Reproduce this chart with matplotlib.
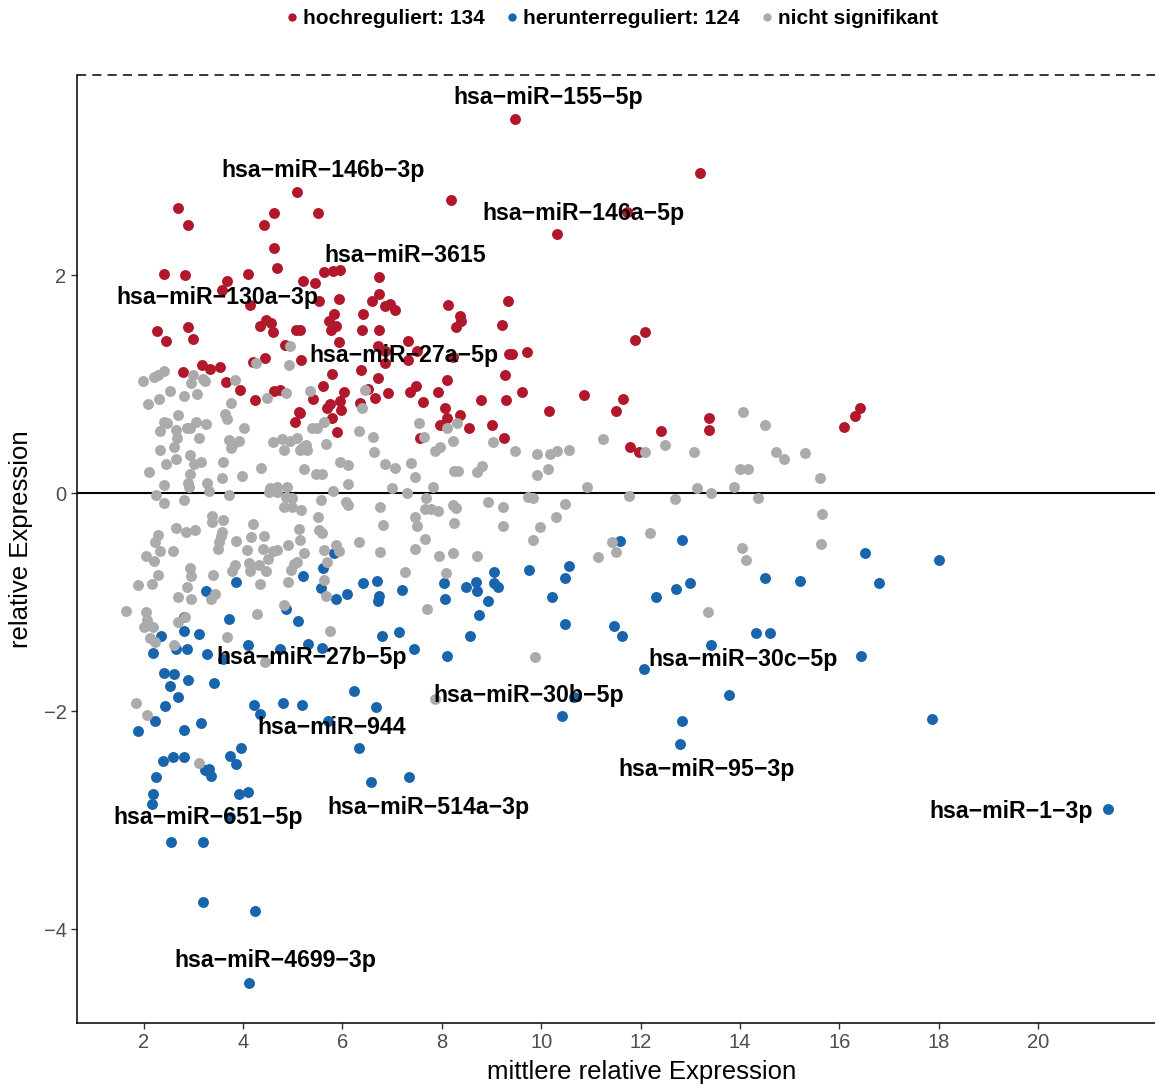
import numpy as np
import matplotlib
matplotlib.use("Agg")
import matplotlib.pyplot as plt
from matplotlib.lines import Line2D

plt.rcParams['font.family'] = ['Liberation Sans', 'DejaVu Sans']

# (mittlere relative Expression, relative Expression)
up = [(9.48,3.44),(13.20,2.94),(5.09,2.77),(2.70,2.62),(8.19,2.69),(4.63,2.57),(5.51,2.57),(2.90,2.46),(4.43,2.46),
      (11.73,2.58),(10.32,2.38),(4.63,2.25),(4.69,2.07),(2.41,2.01),(2.84,2.00),(4.10,2.01),(3.68,1.95),(5.63,2.03),
      (5.81,2.04),(5.96,2.05),(5.21,1.95),(5.45,1.93),(6.74,1.99),(6.74,1.83),(3.58,1.87),(4.14,1.73),(5.53,1.77),
      (5.94,1.78),(6.60,1.77),(6.86,1.72),(6.96,1.74),(7.06,1.68),(6.42,1.65),(5.83,1.65),(5.73,1.58),(5.87,1.54),
      (5.77,1.50),(6.40,1.50),(6.74,1.50),(4.47,1.59),(4.57,1.56),(4.35,1.54),(4.61,1.48),(2.27,1.49),(2.90,1.53),
      (2.45,1.40),(3.00,1.42),(5.07,1.50),(5.15,1.50),(5.94,1.39),(8.13,1.73),(8.37,1.63),(8.39,1.58),(8.29,1.53),
      (9.34,1.77),(9.22,1.55),(11.89,1.41),(12.09,1.48),(6.72,1.35),(6.86,1.31),(7.32,1.40),(7.50,1.31),(7.32,1.22),
      (6.86,1.20),(9.36,1.28),(9.42,1.28),(9.72,1.30),(8.23,1.25),(5.17,1.22),(6.38,1.13),(5.79,1.10),(6.72,1.06),
      (9.28,1.09),(8.11,1.04),(5.61,0.99),(7.48,0.99),(6.52,0.96),(6.04,0.93),(6.92,0.92),(7.36,0.93),(7.93,0.93),
      (9.62,0.93),(5.41,0.87),(6.66,0.88),(6.36,0.83),(5.96,0.85),(5.75,0.82),(5.69,0.78),(5.98,0.77),(7.63,0.84),
      (8.79,0.86),(9.30,0.86),(10.87,0.90),(11.65,0.87),(10.16,0.76),(11.51,0.76),(8.07,0.78),(5.15,0.74),(5.79,0.69),
      (8.37,0.72),(8.11,0.69),(8.03,0.63),(7.97,0.63),(8.55,0.60),(9.01,0.63),(5.90,0.56),(7.57,0.51),(9.26,0.51),
      (12.41,0.57),(11.79,0.43),(11.97,0.38),(4.85,1.36),(3.18,1.18),(3.34,1.14),(3.54,1.16),(2.80,1.11),(3.66,1.02),
      (3.94,0.95),(4.25,0.86),(4.21,1.21),(4.45,1.24),(4.63,0.94),(4.75,0.95),(5.13,0.75),(5.05,0.66),(13.38,0.69),
      (13.38,0.58),(16.42,0.78),(16.32,0.71),(16.10,0.61)]

down = [(5.83,-0.55),(5.61,-0.68),(5.21,-0.76),(3.86,-0.81),(5.57,-0.87),(5.87,-0.97),(6.10,-0.92),(3.26,-0.90),
        (4.87,-1.06),(5.11,-1.17),(3.72,-1.15),(2.82,-1.13),(2.82,-1.26),(2.35,-1.31),(3.12,-1.29),(4.10,-1.39),
        (4.75,-1.43),(5.31,-1.38),(5.59,-1.42),(2.19,-1.46),(2.66,-1.43),(2.88,-1.43),(3.28,-1.47),(3.60,-1.52),
        (2.41,-1.65),(2.62,-1.66),(2.90,-1.71),(3.42,-1.74),(2.54,-1.77),(2.70,-1.87),(2.43,-1.95),(2.23,-2.09),
        (1.89,-2.18),(2.82,-2.17),(3.16,-2.11),(4.23,-1.94),(4.35,-2.02),(4.81,-1.92),(5.19,-1.94),(6.24,-1.81),
        (6.68,-1.96),(5.71,-2.09),(6.34,-2.34),(3.96,-2.34),(3.74,-2.41),(3.86,-2.48),(2.39,-2.46),(2.60,-2.42),
        (2.82,-2.42),(3.24,-2.54),(3.32,-2.53),(3.36,-2.59),(2.25,-2.60),(2.19,-2.76),(2.17,-2.85),(3.92,-2.76),
        (4.10,-2.74),(6.58,-2.65),(7.34,-2.60),(3.74,-2.97),(2.56,-3.20),(3.20,-3.20),(3.20,-3.75),(4.25,-3.83),
        (4.12,-4.49),(6.42,-0.82),(6.70,-0.80),(6.74,-0.94),(6.72,-0.99),(7.20,-0.89),(8.05,-0.82),(8.07,-0.97),
        (8.49,-0.86),(8.69,-0.81),(8.71,-0.90),(8.93,-0.99),(9.05,-0.72),(9.05,-0.82),(9.13,-0.86),(8.75,-1.12),
        (9.76,-0.70),(10.22,-0.95),(10.48,-0.78),(10.56,-0.67),(11.59,-0.44),(12.84,-0.43),(12.31,-0.95),(12.72,-0.88),
        (13.00,-0.82),(10.48,-1.20),(11.47,-1.22),(11.63,-1.31),(6.80,-1.31),(7.14,-1.27),(8.57,-1.31),(16.52,-0.55),
        (18.01,-0.61),(14.51,-0.78),(15.21,-0.80),(16.80,-0.82),(14.33,-1.28),(14.61,-1.28),(13.42,-1.39),(16.44,-1.49),
        (7.44,-1.43),(8.11,-1.49),(12.07,-1.61),(10.66,-1.87),(13.78,-1.85),(10.42,-2.04),(12.84,-2.09),(12.80,-2.30),
        (17.87,-2.07),(21.41,-2.90)]

ns = [(4.95,1.35),(4.27,1.20),(4.93,1.18),(2.41,1.12),(2.29,1.09),(2.21,1.07),(1.99,1.03),(3.00,1.09),(3.20,1.05),
      (3.24,1.03),(2.96,1.01),(3.84,1.04),(2.54,0.94),(2.31,0.87),(2.09,0.82),(2.82,0.89),(3.08,0.91),(3.76,0.83),
      (4.49,0.88),(4.87,0.92),(5.35,0.94),(2.70,0.72),(3.64,0.73),(3.68,0.68),(2.41,0.66),(2.47,0.65),(2.33,0.57),
      (3.06,0.66),(3.26,0.64),(2.88,0.60),(2.94,0.60),(2.66,0.58),(4.02,0.60),(5.63,0.66),(5.39,0.60),(5.49,0.60),
      (3.12,0.51),(2.68,0.51),(2.62,0.43),(2.33,0.40),(3.72,0.49),(3.80,0.45),(3.92,0.48),(3.76,0.42),(4.61,0.47),
      (4.79,0.50),(4.95,0.48),(5.09,0.51),(4.83,0.40),(5.19,0.42),(5.27,0.44),(5.29,0.40),(5.15,0.40),(5.67,0.45),
      (2.66,0.32),(2.94,0.35),(3.02,0.27),(3.16,0.29),(2.45,0.27),(2.11,0.20),(3.60,0.29),(4.37,0.23),(5.23,0.22),
      (5.47,0.18),(5.59,0.18),(5.96,0.29),(2.94,0.18),(2.41,0.08),(2.90,0.10),(2.92,0.06),(3.28,0.10),(3.58,0.14),
      (3.98,0.16),(4.55,0.05),(4.69,0.06),(4.89,0.06),(5.81,0.02),(2.25,-0.01),(3.32,0.02),(3.72,-0.01),
      (2.41,-0.09),(2.82,-0.06),(4.53,0.01),(4.69,0.01),(4.87,-0.03),(4.99,-0.04),(4.83,-0.12),(4.99,-0.12),
      (5.17,-0.15),(5.57,-0.06),(6.08,-0.08),(3.38,-0.21),(3.38,-0.26),(3.60,-0.24),(4.21,-0.28),(5.51,-0.22),
      (2.66,-0.32),(2.86,-0.35),(3.04,-0.34),(3.58,-0.35),(3.56,-0.39),(2.29,-0.38),(4.16,-0.40),(4.43,-0.39),
      (5.13,-0.33),(5.53,-0.34),(5.59,-0.36),(2.23,-0.45),(2.33,-0.53),(2.60,-0.53),(3.52,-0.45),(3.50,-0.51),
      (3.86,-0.44),(4.08,-0.52),(4.41,-0.51),(4.61,-0.53),(4.69,-0.52),(4.51,-0.60),(4.91,-0.47),(5.15,-0.43),
      (5.23,-0.55),(5.63,-0.52),(5.87,-0.47),(5.69,-0.63),(2.05,-0.57),(2.21,-0.62),(2.94,-0.68),(2.96,-0.76),
      (3.84,-0.66),(3.78,-0.71),(4.12,-0.64),(4.14,-0.71),(4.33,-0.66),(4.47,-0.71),(5.03,-0.65),(4.97,-0.70),
      (5.09,-0.63),(3.40,-0.75),(2.29,-0.75),(2.17,-0.83),(1.89,-0.84),(4.35,-0.83),(4.91,-0.81),(5.63,-0.79),
      (2.88,-0.86),(2.70,-0.95),(2.96,-0.97),(3.36,-0.97),(3.44,-0.92),(1.65,-1.08),(2.05,-1.09),(2.07,-1.16),
      (2.70,-1.18),(2.84,-1.13),(4.83,-1.02),(4.29,-1.11),(5.67,-0.94),(2.01,-1.23),(2.19,-1.23),(2.13,-1.33),
      (2.23,-1.36),(3.68,-1.32),(5.75,-1.26),(2.62,-1.39),(4.45,-1.55),
      (6.46,0.95),(6.40,0.78),(6.34,0.57),(6.62,0.52),(7.55,0.65),(8.31,0.65),(8.11,0.60),(7.65,0.52),(6.64,0.38),
      (7.87,0.39),(7.97,0.43),(8.23,0.48),(9.03,0.47),(9.48,0.39),(9.92,0.36),(10.18,0.36),(10.32,0.39),(10.56,0.40),
      (11.25,0.50),(12.09,0.38),(12.49,0.44),(13.08,0.38),(6.12,0.26),(6.86,0.27),(7.06,0.23),(7.38,0.28),(8.25,0.21),
      (8.33,0.21),(8.71,0.20),(8.81,0.25),(7.46,0.15),(6.12,0.09),(7.00,0.05),(7.30,0.00),(7.83,0.06),(9.92,0.17),
      (10.14,0.22),(10.93,0.06),(13.14,0.05),(6.12,-0.11),(6.76,-0.12),(7.69,-0.04),(7.67,-0.14),(7.79,-0.14),
      (7.93,-0.16),(8.23,-0.11),(8.29,-0.13),(8.93,-0.08),(9.24,-0.12),(9.74,-0.03),(9.84,-0.04),(10.48,-0.10),
      (11.77,-0.02),(12.70,-0.05),(6.82,-0.29),(7.46,-0.22),(7.50,-0.30),(8.25,-0.27),(9.24,-0.30),(9.98,-0.31),
      (10.30,-0.22),(6.34,-0.45),(7.67,-0.42),(7.46,-0.51),(6.76,-0.54),(7.95,-0.57),(8.23,-0.55),(8.71,-0.57),
      (9.84,-0.43),(12.19,-0.36),(11.43,-0.45),(11.51,-0.54),(11.15,-0.58),(5.94,-0.53),(7.26,-0.72),(8.09,-0.73),
      (7.71,-1.06),
      (14.06,0.75),(14.51,0.63),(14.73,0.38),(14.89,0.32),(15.31,0.37),(14.00,0.22),(14.16,0.22),(15.61,0.14),
      (13.42,0.00),(13.88,0.06),(14.37,-0.04),(15.65,-0.19),(14.04,-0.50),(14.12,-0.61),(15.63,-0.46),(13.36,-1.09),
      (1.85,-1.92),(2.07,-2.03),(3.12,-2.47),(7.87,-1.89),(9.88,-1.50)]

# beschriftete miRNAs: name, x, y
label_names = ['hsa-miR-155-5p', 'hsa-miR-146b-3p', 'hsa-miR-146a-5p', 'hsa-miR-3615', 'hsa-miR-130a-3p',
               'hsa-miR-27a-5p', 'hsa-miR-27b-5p', 'hsa-miR-30c-5p', 'hsa-miR-30b-5p', 'hsa-miR-944',
               'hsa-miR-95-3p', 'hsa-miR-514a-3p', 'hsa-miR-651-5p', 'hsa-miR-1-3p', 'hsa-miR-4699-3p']
label_x = [10.14, 5.61, 10.84, 7.26, 3.48, 7.24, 5.39, 14.06, 9.74, 5.79, 13.32, 7.73, 3.30, 19.46, 4.65]
label_y = [3.63, 2.96, 2.57, 2.18, 1.80, 1.27, -1.51, -1.52, -1.85, -2.15, -2.53, -2.88, -2.97, -2.92, -4.29]

legend_labels = ['hochreguliert: 134', 'herunterreguliert: 124', 'nicht signifikant']
col_up = '#B2182B'
col_down = '#1865AD'
col_ns = '#ABABAB'

fig = plt.figure(figsize=(11.55, 10.86), dpi=100)
ax = fig.add_axes([77/1155, 63/1086, 1 - 77/1155, (1023 - 75)/1086])

up_a = np.array(up)
down_a = np.array(down)
ns_a = np.array(ns)
ax.scatter(up_a[:, 0], up_a[:, 1], s=62, color=col_up, linewidths=0, zorder=2)
ax.scatter(down_a[:, 0], down_a[:, 1], s=62, color=col_down, linewidths=0, zorder=2)
ax.scatter(ns_a[:, 0], ns_a[:, 1], s=62, color=col_ns, linewidths=0, zorder=2)

ax.axhline(0, color='black', lw=1.5, zorder=1)
ymax = 3.84
ax.axhline(ymax, color='black', lw=1.1, ls=(0, (6, 4)), zorder=1, clip_on=False)

for name, x, y in zip(label_names, label_x, label_y):
    ax.text(x, y, name.replace('-', '\u2212'), ha='center', va='center',
            fontsize=16.7, fontweight='bold', color='black', zorder=3)

ax.set_xlim(0.66, 22.35)
ax.set_ylim(-4.86, ymax)
ax.set_xticks(range(2, 21, 2))
ax.set_yticks([-4, -2, 0, 2])
for s in ['top', 'right']:
    ax.spines[s].set_visible(False)
for s in ['left', 'bottom']:
    ax.spines[s].set_linewidth(1.1)
ax.tick_params(direction='out', length=4, width=1.0, color='#333333',
               labelsize=14.5, labelcolor='#4D4D4D')
ax.set_xlabel('mittlere relative Expression', fontsize=18.5)
ax.set_ylabel('relative Expression', fontsize=18.5)
ax.xaxis.set_label_coords(0.524, -0.039)
ax.yaxis.set_label_coords(-0.041, 0.51)

handles = [Line2D([], [], ls='none', marker='o', markersize=6, color=c, markeredgewidth=0)
           for c in (col_up, col_down, col_ns)]
fig.legend(handles, legend_labels, loc='center', bbox_to_anchor=(0.528, 0.983), ncol=3,
           frameon=False, prop={'weight': 'bold', 'size': 15}, handletextpad=0.05,
           columnspacing=0.8, handlelength=1.0)

fig.savefig('out.png', dpi=100)
